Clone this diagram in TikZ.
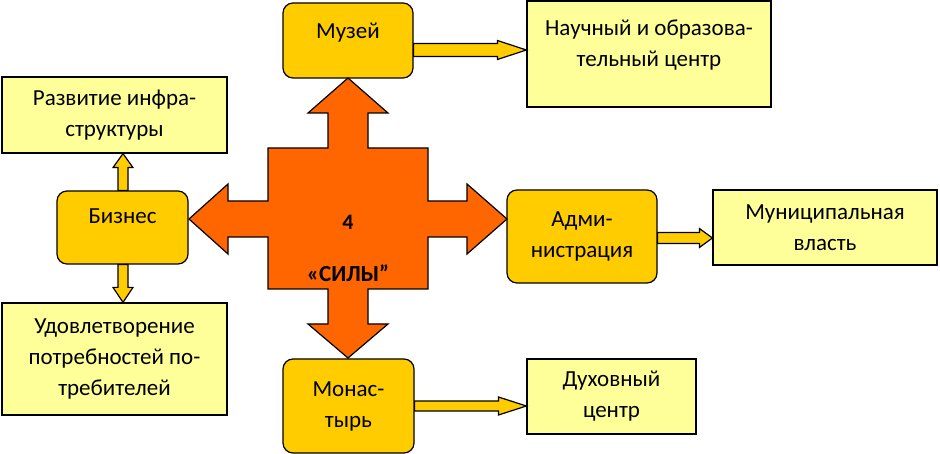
\documentclass[tikz,border=0pt]{standalone}
\usepackage{fontspec}
\setmainfont{Carlito}
\usepackage{tikz}
\usetikzlibrary{calc}

\definecolor{sila}{HTML}{FF6600}
\definecolor{zoloto}{HTML}{FFCC00}
\definecolor{bledny}{HTML}{FFFF99}

% block arrow: start, tip, half shaft, half head, head length
\newcommand{\blockarr}[5]{%
  \path (#1) coordinate (ba-s);
  \path (#2) coordinate (ba-t);
  \path ($(ba-t)!#5!(ba-s)$) coordinate (ba-h);
  \draw[strelka] ($(ba-s)!#3!90:(ba-t)$) -- ($(ba-h)!#3!-90:(ba-s)$)
    -- ($(ba-h)!#4!-90:(ba-s)$) -- (ba-t) -- ($(ba-h)!#4!90:(ba-s)$)
    -- ($(ba-h)!#3!90:(ba-s)$) -- ($(ba-s)!#3!-90:(ba-t)$) -- cycle;
}

\begin{document}
\begin{tikzpicture}[x=1pt,y=-1pt,
  box/.style={draw=black, line width=1.2pt, align=center, inner sep=2pt,
    font=\fontsize{23}{31}\selectfont},
  tyomny/.style={box, fill=zoloto, rounded corners=10pt},
  svetly/.style={box, fill=bledny},
  lift/.style={text depth=#1},
  strelka/.style={draw=black, line width=1.2pt, fill=zoloto, line join=miter},
  krest/.style={draw=black, line width=1.2pt, fill=sila, line join=miter}]

  \useasboundingbox (0,0) rectangle (940,454);

  % ---------- four centres ----------
  \node[tyomny, minimum width=130pt, minimum height=75pt, lift=19pt] (muzej) at (348,40.5) {Музей};
  \node[tyomny, minimum width=131pt, minimum height=73pt, lift=23pt] (biznes) at (122.5,227.5) {Бизнес};
  \node[tyomny, minimum width=150pt, minimum height=93pt] (admin) at (582,236.5) {Адми-\\нистрация};
  \node[tyomny, minimum width=131pt, minimum height=94pt] (monastyr) at (348.5,406) {Монас-\\тырь};

  % ---------- results ----------
  \node[svetly, minimum width=244pt, minimum height=106pt, lift=22pt] (nauch) at (649,54) {Научный и образова-\\тельный центр};
  \node[svetly, minimum width=225pt, minimum height=76pt] (razv) at (114.5,115) {Развитие инфра-\\структуры};
  \node[svetly, minimum width=225pt, minimum height=112pt] (udovl) at (114.5,359) {Удовлетворение\\потребностей по-\\требителей};
  \node[svetly, minimum width=224pt, minimum height=75pt] (vlast) at (825,227.5) {Муниципальная\\власть};
  \node[svetly, minimum width=169pt, minimum height=75pt] (duh) at (611.5,396.5) {Духовный\\центр};

  % ---------- cross ----------
  \draw[krest] (348,78) -- (388,113) -- (368,113) -- (368,148) -- (428,148)
    -- (428,201) -- (467,201) -- (467,184) -- (507,219) -- (467,254) -- (467,237)
    -- (428,237) -- (428,289) -- (368,289) -- (368,324) -- (388,324) -- (348,358)
    -- (308,324) -- (328,324) -- (328,289) -- (268,289) -- (268,237) -- (228,237)
    -- (228,254) -- (189,219) -- (228,184) -- (228,201) -- (268,201) -- (268,148)
    -- (328,148) -- (328,113) -- (308,113) -- cycle;
  \node[font=\fontsize{22}{24}\selectfont\bfseries] (chetyre) at (348,222) {4};
  \node[font=\fontsize{23}{24}\selectfont\bfseries] (sily) at (348,273) {«СИЛЫ"};

  % ---------- yellow arrows ----------
  \blockarr{$(muzej.east)+(0,9.5)$}{nauch.west |- ba-s}{6.5pt}{9.5pt}{29pt}
  \blockarr{$(biznes.north)+(0.5,0)$}{razv.south -| ba-s}{5pt}{10pt}{14pt}
  \blockarr{$(biznes.south)+(0.5,0)$}{udovl.north -| ba-s}{5pt}{10pt}{15pt}
  \blockarr{$(admin.east)+(0,1.5)$}{vlast.west |- ba-s}{5.5pt}{9.5pt}{13pt}
  \blockarr{monastyr.east}{duh.west |- ba-s}{5pt}{9pt}{28pt}

\end{tikzpicture}
\end{document}
